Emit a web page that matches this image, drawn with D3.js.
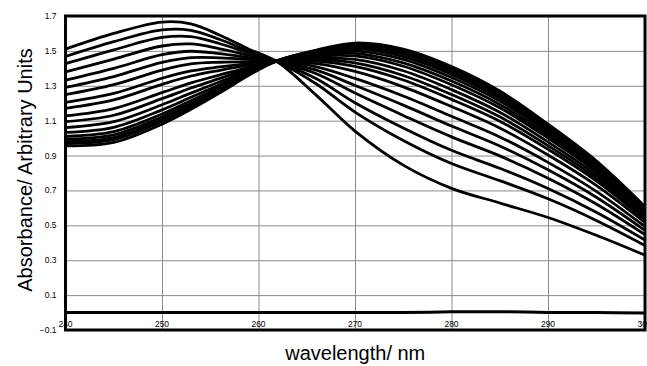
<!DOCTYPE html>
<html>
<head>
<meta charset="utf-8">
<script src="https://cdn.jsdelivr.net/npm/d3@7"></script>
<style>
  html, body { margin: 0; padding: 0; background: #fff; }
  svg { display: block; }
</style>
</head>
<body>
<div id="chart"></div>
<script>
// wavelengths (nm) at which each scan was read
const wavelengths = [240, 245, 250, 253, 256, 259, 262, 266, 270, 275, 280, 285, 290, 295, 300];

// absorbance scans, first (highest at 250 nm) to last
const scan1  = [1.510, 1.600, 1.665, 1.655, 1.590, 1.510, 1.435, 1.245, 1.040, 0.845, 0.712, 0.628, 0.545, 0.443, 0.330];
const scan2  = [1.468, 1.553, 1.621, 1.618, 1.565, 1.499, 1.436, 1.310, 1.149, 0.986, 0.854, 0.756, 0.652, 0.528, 0.386];
const scan3  = [1.427, 1.506, 1.577, 1.582, 1.541, 1.488, 1.437, 1.340, 1.203, 1.058, 0.930, 0.827, 0.711, 0.575, 0.417];
const scan4  = [1.380, 1.453, 1.528, 1.540, 1.512, 1.475, 1.437, 1.369, 1.258, 1.130, 1.007, 0.898, 0.770, 0.622, 0.448];
const scan5  = [1.332, 1.400, 1.478, 1.498, 1.484, 1.462, 1.438, 1.390, 1.302, 1.189, 1.069, 0.955, 0.818, 0.661, 0.473];
const scan6  = [1.291, 1.353, 1.434, 1.461, 1.460, 1.451, 1.439, 1.409, 1.342, 1.241, 1.125, 1.007, 0.861, 0.695, 0.495];
const scan7  = [1.249, 1.306, 1.390, 1.425, 1.435, 1.439, 1.440, 1.427, 1.382, 1.294, 1.181, 1.058, 0.903, 0.729, 0.518];
const scan8  = [1.205, 1.256, 1.343, 1.385, 1.408, 1.427, 1.441, 1.442, 1.411, 1.333, 1.222, 1.097, 0.936, 0.755, 0.534];
const scan9  = [1.171, 1.219, 1.308, 1.356, 1.389, 1.418, 1.441, 1.451, 1.431, 1.359, 1.250, 1.122, 0.957, 0.772, 0.546];
const scan10 = [1.127, 1.169, 1.261, 1.317, 1.362, 1.406, 1.442, 1.460, 1.451, 1.386, 1.278, 1.148, 0.978, 0.789, 0.557];
const scan11 = [1.094, 1.131, 1.226, 1.287, 1.342, 1.397, 1.443, 1.470, 1.471, 1.412, 1.306, 1.174, 1.000, 0.806, 0.568];
const scan12 = [1.060, 1.094, 1.191, 1.258, 1.323, 1.388, 1.443, 1.477, 1.486, 1.431, 1.327, 1.193, 1.016, 0.819, 0.576];
const scan13 = [1.033, 1.062, 1.162, 1.234, 1.306, 1.381, 1.444, 1.484, 1.500, 1.451, 1.347, 1.212, 1.032, 0.832, 0.585];
const scan14 = [1.010, 1.037, 1.138, 1.214, 1.293, 1.375, 1.444, 1.490, 1.513, 1.467, 1.365, 1.228, 1.045, 0.842, 0.592];
const scan15 = [0.994, 1.019, 1.121, 1.199, 1.283, 1.370, 1.444, 1.494, 1.523, 1.481, 1.379, 1.241, 1.056, 0.851, 0.597];
const scan16 = [0.980, 1.003, 1.106, 1.187, 1.275, 1.367, 1.445, 1.498, 1.530, 1.490, 1.389, 1.251, 1.064, 0.857, 0.602];
const scan17 = [0.969, 0.991, 1.095, 1.177, 1.268, 1.364, 1.445, 1.501, 1.538, 1.500, 1.400, 1.260, 1.072, 0.864, 0.606];
const scan18 = [0.955, 0.975, 1.080, 1.165, 1.260, 1.360, 1.445, 1.505, 1.545, 1.510, 1.410, 1.270, 1.080, 0.870, 0.610];

// blank / baseline scan
const baseline = [0.000, 0.000, 0.000, 0.000, 0.000, 0.000, 0.000, 0.000, 0.000, 0.000, 0.004, 0.005, 0.001, 0.000, -0.002];

const xTicks = [240, 250, 260, 270, 280, 290, 300];
const yTicks = [-0.1, 0.1, 0.3, 0.5, 0.7, 0.9, 1.1, 1.3, 1.5, 1.7];

const scans = [scan1, scan2, scan3, scan4, scan5, scan6, scan7, scan8, scan9,
  scan10, scan11, scan12, scan13, scan14, scan15, scan16, scan17, scan18];

const W = 647, H = 366;
const margin = { top: 16, right: 2, bottom: 36, left: 65.5 };
const width = W - margin.left - margin.right;
const height = H - margin.top - margin.bottom;

const svgBase = d3.select('#chart')
  .append('svg')
  .attr('width', W)
  .attr('height', H);

const svg = svgBase.append('g')
  .attr('transform', `translate(${margin.left},${margin.top})`);

const x = d3.scaleLinear().domain([240, 300]).range([0, width - 0.5]);
const y = d3.scaleLinear().domain([-0.1, 1.7]).range([height, 0]);

svg.append('defs').append('clipPath').attr('id', 'plot-clip')
  .append('rect').attr('width', width).attr('height', height);

// gridlines
svg.append('g')
  .call(d3.axisLeft(y).tickValues(yTicks).tickSize(-width).tickFormat(''))
  .call(g => g.select('.domain').remove())
  .selectAll('line').attr('stroke', '#8c8c8c').attr('stroke-width', 1);

svg.append('g')
  .attr('transform', `translate(0,${height})`)
  .call(d3.axisBottom(x).tickValues(xTicks).tickSize(-height).tickFormat(''))
  .call(g => g.select('.domain').remove())
  .selectAll('line').attr('stroke', '#8c8c8c').attr('stroke-width', 1);

// spectra
const line = d3.line()
  .x((d, i) => x(wavelengths[i]))
  .y(d => y(d))
  .curve(d3.curveCatmullRom.alpha(0.5));

const plot = svg.append('g').attr('clip-path', 'url(#plot-clip)');

plot.selectAll('.scan')
  .data(scans)
  .enter().append('path')
  .attr('class', 'scan')
  .attr('d', line)
  .attr('fill', 'none')
  .attr('stroke', '#000')
  .attr('stroke-width', 2.8)
  .attr('stroke-linejoin', 'round');

plot.append('path')
  .attr('d', line(baseline))
  .attr('fill', 'none')
  .attr('stroke', '#000')
  .attr('stroke-width', 3);

// frame
svg.append('rect')
  .attr('width', width)
  .attr('height', height)
  .attr('fill', 'none')
  .attr('stroke', '#000')
  .attr('stroke-width', 3);

// y tick labels
svg.append('g')
  .selectAll('text')
  .data(yTicks)
  .enter().append('text')
  .attr('x', -9)
  .attr('y', d => y(d))
  .attr('dy', '0.35em')
  .attr('text-anchor', 'end')
  .style('font-family', 'Arial, "Liberation Sans", sans-serif')
  .style('font-size', '8.5px')
  .text(d => d3.format('.1f')(d));

// x tick labels sit inside the frame, just above the bottom edge
svg.append('g')
  .selectAll('text')
  .data(xTicks)
  .enter().append('text')
  .attr('x', d => x(d))
  .attr('y', height - 3)
  .attr('text-anchor', 'middle')
  .style('font-family', 'Arial, "Liberation Sans", sans-serif')
  .style('font-size', '8.5px')
  .text(d => d);

// axis titles
svgBase.append('text')
  .attr('transform', `translate(32,${margin.top + height / 2 - 3}) rotate(-90)`)
  .attr('text-anchor', 'middle')
  .style('font-family', 'Arial, "Liberation Sans", sans-serif')
  .style('font-size', '20px')
  .text('Absorbance/ Arbitrary Units');

svgBase.append('text')
  .attr('x', margin.left + width / 2)
  .attr('y', 360)
  .attr('text-anchor', 'middle')
  .style('font-family', 'Arial, "Liberation Sans", sans-serif')
  .style('font-size', '20px')
  .text('wavelength/ nm');
</script>
</body>
</html>
